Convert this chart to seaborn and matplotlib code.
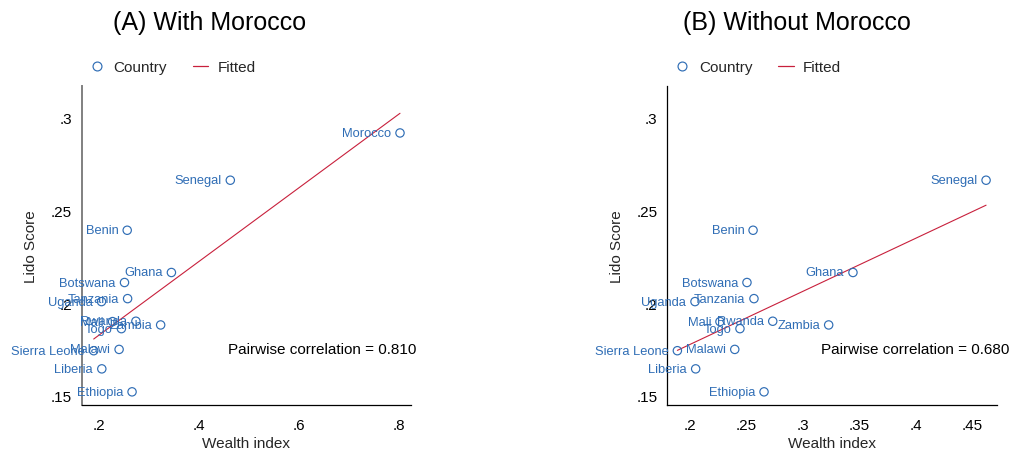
import matplotlib
matplotlib.use("Agg")
import matplotlib.pyplot as plt
from matplotlib.lines import Line2D
import numpy as np
import pandas as pd
import seaborn as sns

# Country-level data: wealth index vs. Lido score
countries = ["Morocco", "Senegal", "Benin", "Ghana", "Botswana", "Tanzania", "Uganda",
             "Mali", "Rwanda", "Togo", "Zambia", "Sierra Leone", "Malawi", "Liberia", "Ethiopia"]
wealth = [0.8014, 0.462, 0.2558, 0.3442, 0.2504, 0.2566, 0.2044,
          0.2265, 0.2732, 0.2442, 0.3227, 0.1888, 0.2396, 0.205, 0.2655]
lido = [0.2919, 0.2664, 0.2394, 0.2166, 0.2112, 0.2025, 0.2009,
        0.1901, 0.1903, 0.1863, 0.1883, 0.1744, 0.1751, 0.1646, 0.1522]

panel_titles = ["(A) With Morocco", "(B) Without Morocco"]
correlations = ["0.810", "0.680"]
xticks_a = [0.2, 0.4, 0.6, 0.8]
xtick_labels_a = [".2", ".4", ".6", ".8"]
xticks_b = [0.2, 0.25, 0.3, 0.35, 0.4, 0.45]
xtick_labels_b = [".2", ".25", ".3", ".35", ".4", ".45"]
yticks = [0.15, 0.2, 0.25, 0.3]
ytick_labels = [".15", ".2", ".25", ".3"]

df_all = pd.DataFrame({"country": countries, "wealth": wealth, "lido": lido})
df_no_mor = df_all[df_all["country"] != "Morocco"].reset_index(drop=True)

sns.set_theme(style="white")
plt.rcParams["font.family"] = ["Liberation Sans", "DejaVu Sans"]

BLUE = "#2f6db5"
RED = "#c8203c"

W, H = 1011, 452
fig = plt.figure(figsize=(W / 100, H / 100), dpi=100)

def frac_box(x0, x1, ytop, ybot):
    return [x0 / W, 1 - ybot / H, (x1 - x0) / W, (ybot - ytop) / H]

ax_a = fig.add_axes(frac_box(81.7, 410.7, 86.7, 406))
ax_b = fig.add_axes(frac_box(667.3, 996.7, 86.7, 406))

panels = [
    (ax_a, df_all, xticks_a, xtick_labels_a, (0.1648, 0.8228), 210, 1.016),
    (ax_b, df_no_mor, xticks_b, xtick_labels_b, (0.1799, 0.4714), 797, 1.037),
]

for i, (ax, d, xt, xtl, xlim, title_x, corr_x) in enumerate(panels):
    sns.regplot(data=d, x="wealth", y="lido", scatter=False, ci=None, ax=ax,
                line_kws={"color": RED, "lw": 0.8})
    sns.scatterplot(data=d, x="wealth", y="lido", ax=ax, marker="o", s=36,
                    facecolor="none", edgecolor=BLUE, linewidth=0.85, zorder=3)
    for _, row in d.iterrows():
        ax.annotate(row["country"], (row["wealth"], row["lido"]),
                    xytext=(-6.3, 0), textcoords="offset points",
                    ha="right", va="center", fontsize=9.3, color=BLUE,
                    annotation_clip=False)

    ax.set_xlim(*xlim)
    ax.set_ylim(0.1451, 0.3174)
    ax.set_xticks(xt)
    ax.set_xticklabels(xtl)
    ax.set_yticks(yticks)
    ax.set_yticklabels(ytick_labels)
    ax.tick_params(axis="both", length=0, labelsize=11, colors="black")
    ax.tick_params(axis="x", pad=9.5)
    ax.tick_params(axis="y", pad=7)
    ax.set_xlabel("Wealth index", fontsize=11, labelpad=2.5)
    ax.set_ylabel("Lido Score", fontsize=11, labelpad=9)
    ax.grid(False)
    ax.set_facecolor("white")

    for side in ["top", "right"]:
        ax.spines[side].set_visible(False)
    ax.spines["bottom"].set_color("black")
    ax.spines["bottom"].set_linewidth(0.9)
    ax.spines["left"].set_color("#808080" if i == 0 else "black")
    ax.spines["left"].set_linewidth(1.4 if i == 0 else 0.9)

    ax.text(corr_x, 0.175, f"Pairwise correlation = {correlations[i]}",
            transform=ax.transAxes, ha="right", va="center", fontsize=11,
            color="black")

    handles = [
        Line2D([], [], marker="o", linestyle="none", markerfacecolor="none",
               markeredgecolor=BLUE, markersize=6.4, markeredgewidth=0.85,
               label="Country"),
        Line2D([], [], color=RED, lw=0.9, label="Fitted"),
    ]
    ax.legend(handles=handles, loc="center left", bbox_to_anchor=(0.022, 1.058),
              ncol=2, frameon=False, fontsize=11, borderpad=0, borderaxespad=0,
              handlelength=1.0, handletextpad=0.6, columnspacing=1.7)

    fig.text(title_x / W, 1 - 23 / H, panel_titles[i], ha="center", va="center",
             fontsize=18, color="black")

fig.savefig("out.png", dpi=100, facecolor="white")
